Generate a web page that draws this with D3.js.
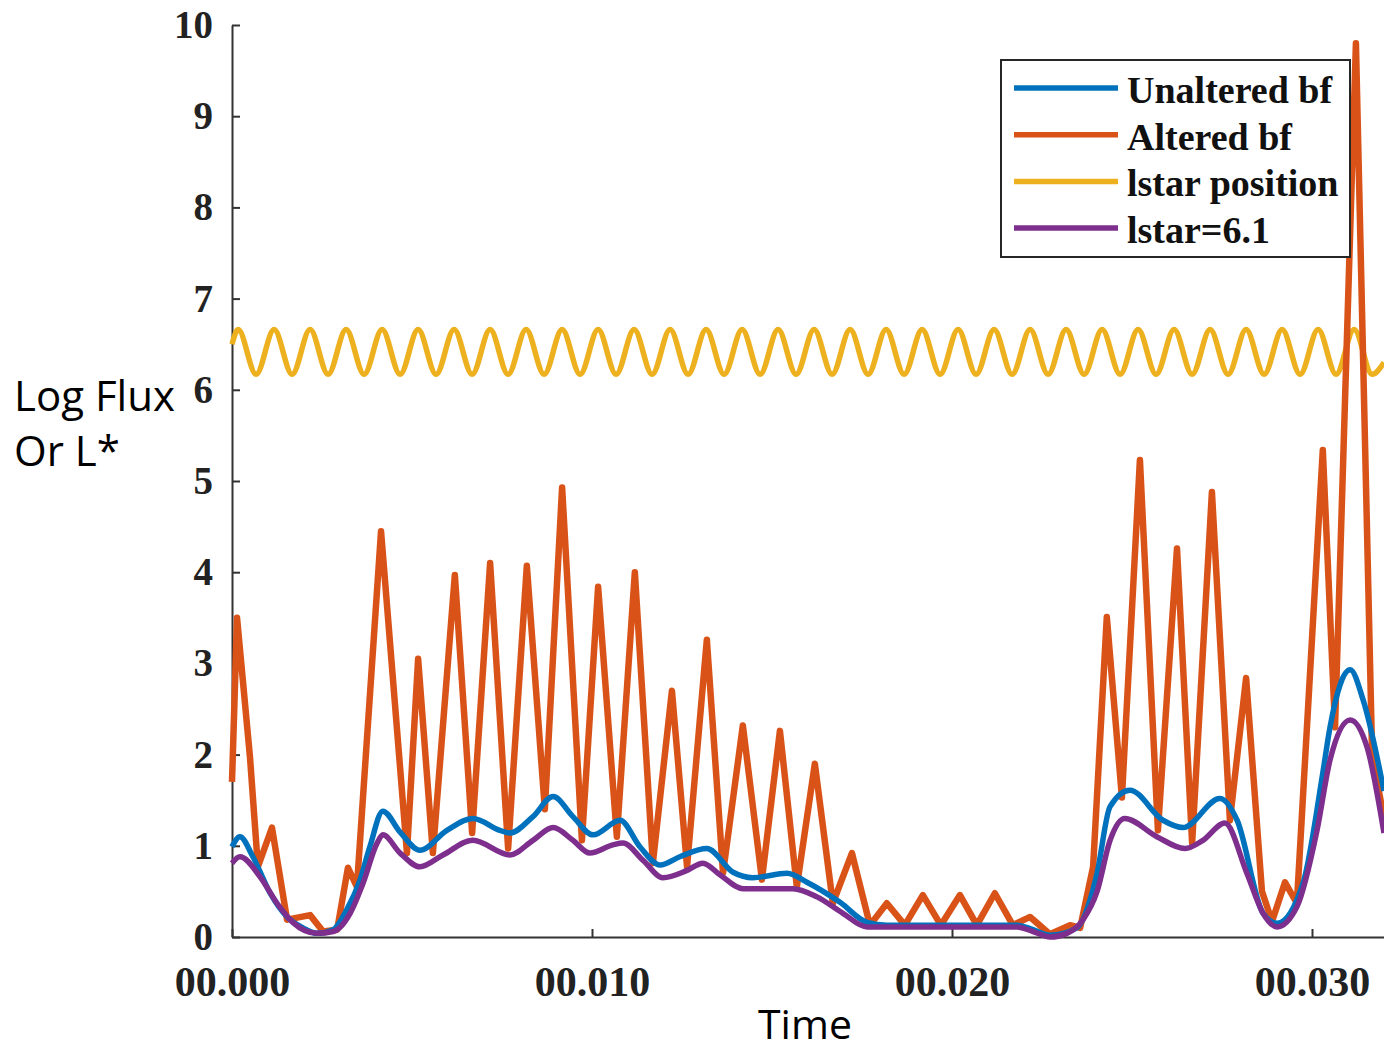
<!DOCTYPE html>
<html>
<head>
<meta charset="utf-8">
<script src="https://cdn.jsdelivr.net/npm/d3@7"></script>
<style>
  html, body { margin: 0; padding: 0; background: #fff; }
  svg { display: block; }
</style>
</head>
<body>
<svg id="chart" width="1384" height="1051"></svg>
<script>
// ---- data (time, value) ----
const unalteredBf = [
    [0, 0.99], [0.00022, 1.1], [0.00058, 0.88], [0.00106, 0.48], [0.00153, 0.22], [0.00197, 0.1],
    [0.00236, 0.04], [0.00281, 0.08], [0.00319, 0.3], [0.00356, 0.63], [0.00383, 0.99], [0.00419, 1.38],
    [0.00467, 1.15], [0.00522, 0.95], [0.00597, 1.17], [0.00669, 1.3], [0.00744, 1.17], [0.00772, 1.14],
    [0.00836, 1.32], [0.00892, 1.54], [0.00947, 1.32], [0.01003, 1.12], [0.01078, 1.28], [0.01133, 0.99],
    [0.01189, 0.79], [0.01244, 0.88], [0.01319, 0.97], [0.01392, 0.71], [0.01447, 0.65], [0.01542, 0.7],
    [0.01597, 0.6], [0.01689, 0.38], [0.01764, 0.16], [0.01819, 0.13], [0.02181, 0.13], [0.02225, 0.08],
    [0.02272, 0.02], [0.02347, 0.1], [0.02383, 0.4], [0.02403, 0.7], [0.02439, 1.43], [0.02494, 1.61],
    [0.02586, 1.28], [0.02642, 1.2], [0.02744, 1.52], [0.02792, 1.28], [0.02864, 0.26], [0.02903, 0.15],
    [0.02975, 0.59], [0.0303, 1.8], [0.0305, 2.3], [0.03106, 2.93], [0.03142, 2.6], [0.032, 1.6]
];

const alteredBf = [
    [0, 1.7], [0.00014, 3.5], [0.0005, 1.97], [0.00072, 0.77], [0.00111, 1.2], [0.00153, 0.19],
    [0.00217, 0.24], [0.00253, 0.06], [0.00292, 0.08], [0.00322, 0.76], [0.00347, 0.55], [0.00414, 4.45],
    [0.00486, 0.92], [0.00517, 3.05], [0.00558, 0.92], [0.00619, 3.97], [0.00667, 1.14], [0.00717, 4.1],
    [0.00767, 0.97], [0.00819, 4.07], [0.00869, 1.4], [0.00917, 4.93], [0.00972, 1.06], [0.01017, 3.84],
    [0.01069, 1.1], [0.01119, 4.0], [0.01169, 0.81], [0.01222, 2.7], [0.01264, 0.77], [0.01319, 3.26],
    [0.01364, 0.7], [0.01419, 2.32], [0.01472, 0.63], [0.01522, 2.26], [0.01569, 0.55], [0.01619, 1.9],
    [0.01669, 0.37], [0.01722, 0.92], [0.01772, 0.13], [0.01819, 0.37], [0.01869, 0.13], [0.01919, 0.46],
    [0.01969, 0.13], [0.02022, 0.46], [0.02069, 0.13], [0.02119, 0.48], [0.02169, 0.13], [0.02217, 0.22],
    [0.02272, 0.03], [0.02328, 0.13], [0.02356, 0.1], [0.02392, 0.77], [0.0243, 3.51], [0.02472, 1.53],
    [0.02522, 5.23], [0.02572, 1.17], [0.02625, 4.26], [0.02667, 1.03], [0.02722, 4.88], [0.02772, 1.28],
    [0.02817, 2.84], [0.02861, 0.5], [0.02889, 0.17], [0.02925, 0.6], [0.02958, 0.37], [0.0303, 5.34],
    [0.03064, 2.3], [0.03122, 9.8], [0.03167, 2.0], [0.032, 1.3]
];

const lstarPosition = [
    [0, 6.5],
    [0.00017, 6.66], [0.00067, 6.17], [0.00117, 6.66], [0.00167, 6.17], [0.00217, 6.66], [0.00267, 6.17],
    [0.00317, 6.66], [0.00367, 6.17], [0.00417, 6.66], [0.00467, 6.17], [0.00517, 6.66], [0.00567, 6.17],
    [0.00617, 6.66], [0.00667, 6.17], [0.00717, 6.66], [0.00767, 6.17], [0.00817, 6.66], [0.00867, 6.17],
    [0.00917, 6.66], [0.00967, 6.17], [0.01017, 6.66], [0.01067, 6.17], [0.01117, 6.66], [0.01167, 6.17],
    [0.01217, 6.66], [0.01267, 6.17], [0.01317, 6.66], [0.01367, 6.17], [0.01417, 6.66], [0.01467, 6.17],
    [0.01517, 6.66], [0.01567, 6.17], [0.01617, 6.66], [0.01667, 6.17], [0.01717, 6.66], [0.01767, 6.17],
    [0.01817, 6.66], [0.01867, 6.17], [0.01917, 6.66], [0.01967, 6.17], [0.02017, 6.66], [0.02067, 6.17],
    [0.02117, 6.66], [0.02167, 6.17], [0.02217, 6.66], [0.02267, 6.17], [0.02317, 6.66], [0.02367, 6.17],
    [0.02417, 6.66], [0.02467, 6.17], [0.02517, 6.66], [0.02567, 6.17], [0.02617, 6.66], [0.02667, 6.17],
    [0.02717, 6.66], [0.02767, 6.17], [0.02817, 6.66], [0.02867, 6.17], [0.02917, 6.66], [0.02967, 6.17],
    [0.03017, 6.66], [0.03067, 6.17], [0.03117, 6.66], [0.03167, 6.17], [0.032, 6.3]
];

const lstar61 = [
    [0, 0.81], [0.00022, 0.88], [0.00078, 0.66], [0.00125, 0.37], [0.00169, 0.16], [0.00236, 0.04],
    [0.00281, 0.06], [0.00328, 0.26], [0.00364, 0.59], [0.00403, 1.03], [0.00419, 1.12], [0.00467, 0.92],
    [0.00522, 0.77], [0.00586, 0.9], [0.00669, 1.06], [0.00772, 0.9], [0.00836, 1.06], [0.00892, 1.2],
    [0.00947, 1.06], [0.00994, 0.92], [0.01058, 1.01], [0.01086, 1.03], [0.01142, 0.84], [0.01197, 0.65],
    [0.01264, 0.73], [0.01308, 0.81], [0.01356, 0.68], [0.01419, 0.53], [0.01558, 0.53], [0.01625, 0.44],
    [0.01697, 0.26], [0.01764, 0.11], [0.02181, 0.11], [0.02225, 0.06], [0.02272, 0.0], [0.02319, 0.04],
    [0.02364, 0.19], [0.02403, 0.5], [0.02439, 1.06], [0.0248, 1.3], [0.02569, 1.1], [0.02647, 0.97],
    [0.02697, 1.06], [0.02758, 1.25], [0.02819, 0.7], [0.02864, 0.26], [0.02903, 0.11], [0.02958, 0.33],
    [0.03014, 1.17], [0.0305, 1.94], [0.03106, 2.38], [0.03153, 2.08], [0.032, 1.14]
];

const xTicks = [0, 0.01, 0.02, 0.03];
const xTickLabels = ["00.000", "00.010", "00.020", "00.030"];
const yTicks = [0, 1, 2, 3, 4, 5, 6, 7, 8, 9, 10];

const legendNames = ["Unaltered bf", "Altered bf", "lstar position", "lstar=6.1"];
const COLORS = ["#0072BD", "#D95319", "#EDB120", "#7E2F8E"];

// ---- layout ----
const svg = d3.select('#chart');
const LEFT = 232, RIGHT = 1384, TOP = 25, BOTTOM = 937;
const LINE_W = 5.5;
const SERIF = '"Liberation Serif", "Times New Roman", serif';
const SANS = '"Open Sans", "Noto Sans", sans-serif';

const x = d3.scaleLinear().domain([0, 0.032]).range([LEFT, RIGHT]);
const y = d3.scaleLinear().domain([0, 10]).range([BOTTOM, TOP]);

// axes
const yAxis = d3.axisLeft(y).tickValues(yTicks).tickSize(-8).tickSizeOuter(0).tickPadding(19);
const gy = svg.append('g').attr('transform', `translate(${LEFT},0)`).call(yAxis);

const xAxis = d3.axisBottom(x).tickValues(xTicks).tickFormat((d, i) => xTickLabels[i])
    .tickSize(-8).tickSizeOuter(0).tickPadding(29);
const gx = svg.append('g').attr('transform', `translate(0,${BOTTOM})`).call(xAxis);

[gx, gy].forEach(g => {
    g.select('.domain').attr('stroke', '#333').attr('stroke-width', 2);
    g.selectAll('.tick line').attr('stroke', '#333').attr('stroke-width', 2);
    g.selectAll('.tick text')
        .attr('fill', '#222')
        .attr('font-family', SERIF)
        .attr('font-weight', 700);
});
gy.selectAll('.tick text').attr('font-size', 39);
gx.selectAll('.tick text').attr('font-size', 42).attr('dy', '0.71em');

// lines
const line = d3.line().x(d => x(d[0])).y(d => y(d[1]));
const smooth = d3.line().x(d => x(d[0])).y(d => y(d[1])).curve(d3.curveMonotoneX);

const plot = svg.append('g');
plot.append('path').datum(lstarPosition).attr('d', smooth)
    .attr('fill', 'none').attr('stroke', COLORS[2]).attr('stroke-width', LINE_W);
plot.append('path').datum(alteredBf).attr('d', line)
    .attr('fill', 'none').attr('stroke', COLORS[1]).attr('stroke-width', 6.5).attr('stroke-linejoin', 'round');
plot.append('path').datum(unalteredBf).attr('d', smooth)
    .attr('fill', 'none').attr('stroke', COLORS[0]).attr('stroke-width', LINE_W);
plot.append('path').datum(lstar61).attr('d', smooth)
    .attr('fill', 'none').attr('stroke', COLORS[3]).attr('stroke-width', LINE_W);

// legend
const legend = svg.append('g');
legend.append('rect')
    .attr('x', 1001).attr('y', 60).attr('width', 349).attr('height', 197)
    .attr('fill', '#fff').attr('stroke', '#262626').attr('stroke-width', 2);
legendNames.forEach((name, i) => {
    const ly = 88 + i * 46.7;
    legend.append('line')
        .attr('x1', 1014).attr('x2', 1118).attr('y1', ly).attr('y2', ly)
        .attr('stroke', COLORS[i]).attr('stroke-width', 5.5);
    legend.append('text')
        .text(name)
        .attr('x', 1127).attr('y', ly + 15)
        .attr('font-family', SERIF).attr('font-weight', 700).attr('font-size', 38)
        .attr('fill', '#111');
});

// axis titles
svg.append('text').text('Log Flux')
    .attr('x', 14).attr('y', 411)
    .attr('font-family', SANS).attr('font-size', 42).attr('fill', '#000');
svg.append('text').text('Or L*')
    .attr('x', 14).attr('y', 466)
    .attr('font-family', SANS).attr('font-size', 42).attr('fill', '#000');
svg.append('text').text('Time')
    .attr('x', 805).attr('y', 1039).attr('text-anchor', 'middle')
    .attr('font-family', SANS).attr('font-size', 41).attr('fill', '#000');
</script>
</body>
</html>
